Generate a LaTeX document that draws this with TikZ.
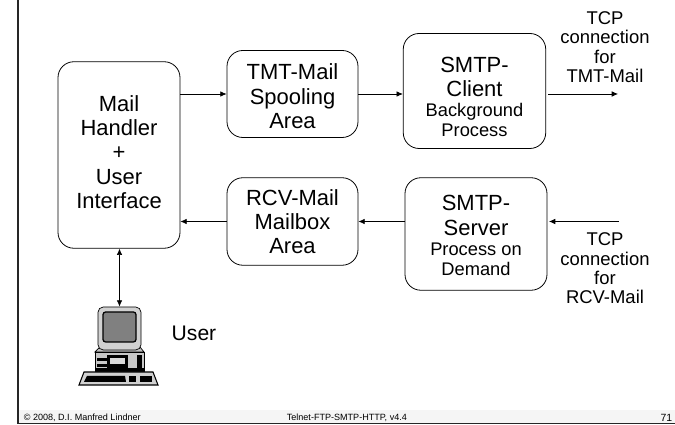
\documentclass[tikz,border=0pt]{standalone}
\usepackage{fontspec}
\setmainfont{Liberation Sans}
\usetikzlibrary{arrows.meta}
\newcommand{\subtext}[1]{{\fontsize{10.4}{11.4}\selectfont #1}}
\begin{document}
\begin{tikzpicture}[>={Latex[length=3.6pt,width=3.2pt]}]
\tikzset{
  procbox/.style={draw,rounded corners=9pt,align=center,inner sep=0pt,line width=0.45pt,font=\fontsize{12.5}{13.8}\selectfont},
  netlabel/.style={align=center,font=\fontsize{10.5}{11}\selectfont},
  foot/.style={font=\fontsize{5.15}{6}\selectfont,inner sep=0pt}
}
\useasboundingbox (0,0) rectangle (13.5,8.5);
\fill[black!4] (0.38,0.03) rectangle (13.5,0.3);
\draw[line width=1.1pt,black!85] (0.36,8.5) -- (0.36,0.03) -- (13.5,0.03);

\node(handler) at (2.38,5.40)[procbox,minimum width=2.44cm,minimum height=3.73cm] {Mail\\Handler\\+\\User\\Interface\rule[-3.4pt]{0pt}{0pt}};
\node(spool) at (5.85,6.62)[procbox,minimum width=2.62cm,minimum height=1.74cm] {\rule{0pt}{11.8pt}TMT-Mail\\Spooling\\Area};
\node(client) at (9.49,6.68)[procbox,minimum width=2.85cm,minimum height=2.3cm] {\rule{0pt}{15.3pt}SMTP-\\Client\\[-2.4pt]\subtext{Background}\\[-2.4pt]\subtext{Process}};
\node(mailbox) at (5.85,4.07)[procbox,minimum width=2.62cm,minimum height=1.75cm] {RCV-Mail\\Mailbox\\Area};
\node(server) at (9.52,3.82)[procbox,minimum width=2.84cm,minimum height=2.25cm] {\rule{0pt}{10.4pt}SMTP-\\Server\\[-2.4pt]\subtext{Process on}\\[-2.4pt]\subtext{Demand}};

\coordinate(tmtstart) at (10.96,6.62);
\coordinate(tmtend) at (12.36,6.62);
\coordinate(rcvstart) at (12.37,4.07);
\coordinate(rcvend) at (10.98,4.07);
\node(tmtlabel) at (12.1,7.56)[netlabel] {TCP\\connection\\for\\TMT-Mail};
\node(rcvlabel) at (12.1,3.13)[netlabel] {TCP\\connection\\for\\RCV-Mail};

% computer
\draw[fill=black!25,line width=0.4pt] (2.0,1.56) -- (2.8,1.56) -- (2.88,1.46) -- (1.9,1.46) -- cycle;
\draw[fill=black!22,line width=0.4pt] (1.9,1.46) rectangle (2.88,1.08);
\fill[black] (1.94,1.34) rectangle (2.3,1.28);
\fill[black] (1.94,1.22) rectangle (2.14,1.16);
\fill[black] (2.14,1.4) rectangle (2.56,1.14);
\fill[black!15] (2.2,1.33) rectangle (2.5,1.22);
\fill[black] (2.74,1.4) rectangle (2.84,1.14);
\fill[black] (1.9,1.14) rectangle (2.88,1.08);
\draw[fill=black!18,line width=0.6pt] (1.68,1.06) -- (3.06,1.06) -- (3.16,0.8) -- (1.58,0.8) -- cycle;
\fill[black] (1.74,0.98) -- (2.5,0.98) -- (2.52,0.86) -- (1.68,0.86) -- cycle;
\fill[black] (2.58,0.98) rectangle (2.72,0.86);
\fill[black] (2.8,0.98) rectangle (3.04,0.86);
\node(pc) at (2.39,1.93)[draw,fill=black!18,rounded corners=3pt,minimum width=0.86cm,minimum height=0.86cm,inner sep=0pt] {};
\node(screen) at (2.39,1.96)[draw,line width=0.7pt,fill=black!50,rounded corners=1.5pt,minimum width=0.66cm,minimum height=0.6cm,inner sep=0pt] {};
\node(user) at (3.88,1.84)[font=\fontsize{12}{13.8}\selectfont] {User};

\path [->]
  (handler.east |- spool)   edge (spool.west)
  (spool)                   edge (client.west |- spool)
  (tmtstart)                edge (tmtend)
  (rcvstart)                edge (rcvend)
  (server.west |- mailbox)  edge (mailbox)
  (mailbox)                 edge (handler.east |- mailbox);
\path [<->]
  (handler.south -| pc)     edge (pc.north);

\node(copyright) at (0.47,0.148)[foot,anchor=west] {© 2008, D.I. Manfred Lindner};
\node(title) at (5.73,0.148)[foot,anchor=west] {Telnet-FTP-SMTP-HTTP, v4.4};
\node(pagenum) at (13.45,0.14)[foot,anchor=east,font=\fontsize{5.95}{7}\selectfont] {71};
\end{tikzpicture}
\end{document}
